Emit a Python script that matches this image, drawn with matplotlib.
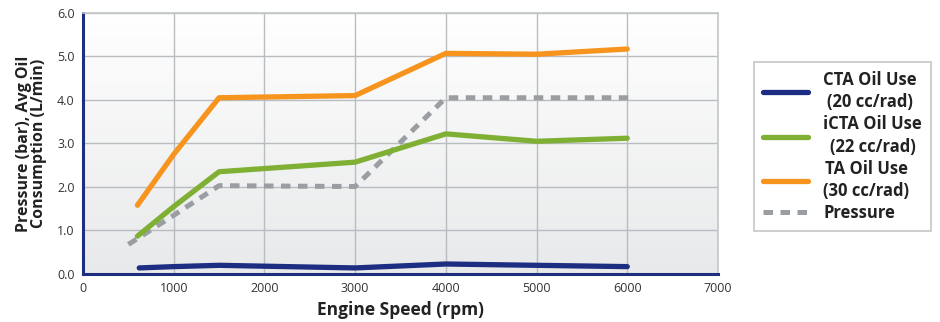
import numpy as np
import matplotlib.pyplot as plt

plt.rcParams['font.family'] = ['Open Sans', 'DejaVu Sans']

# data
rpm_cta = [620, 1000, 1500, 3000, 4000, 5000, 6000]
cta = [0.14, 0.17, 0.20, 0.14, 0.23, 0.20, 0.17]

rpm_icta = [600, 1000, 1500, 3000, 4000, 5000, 6000]
icta = [0.87, 1.55, 2.35, 2.57, 3.22, 3.05, 3.12]

rpm_ta = [600, 1000, 1500, 3000, 4000, 5000, 6000]
ta = [1.58, 2.75, 4.05, 4.10, 5.07, 5.05, 5.17]

rpm_p = [500, 1000, 1500, 3000, 4000, 5000, 6050]
pressure = [0.68, 1.35, 2.03, 2.01, 4.05, 4.05, 4.05]

labels = ['CTA Oil Use\n(20 cc/rad)', 'iCTA Oil Use\n(22 cc/rad)',
          'TA Oil Use\n(30 cc/rad)', 'Pressure']
colors = ['#1c2d82', '#7fb034', '#f7941d', '#9a9ea3']

fig = plt.figure(figsize=(9.4, 3.22), dpi=100)
ax = fig.add_axes([0.0883, 0.149, 0.6755, 0.811])

# soft vertical gradient background
grad = np.linspace(1, 0, 256).reshape(-1, 1)
ax.imshow(grad, extent=[0, 1, 0, 1], transform=ax.transAxes, aspect='auto',
          cmap=plt.matplotlib.colors.LinearSegmentedColormap.from_list('bg', ['#e8e9ea', '#ffffff']),
          zorder=0)

ax.plot(rpm_cta, cta, color=colors[0], lw=3.8, solid_capstyle='round', label=labels[0], zorder=3)
ax.plot(rpm_icta, icta, color=colors[1], lw=3.8, solid_capstyle='round', label=labels[1], zorder=3)
ax.plot(rpm_ta, ta, color=colors[2], lw=3.8, solid_capstyle='round', label=labels[2], zorder=3)
ax.plot(rpm_p, pressure, color=colors[3], lw=3.6, dashes=(1.9, 1.5), label=labels[3], zorder=2)

ax.set_xlim(0, 7000)
ax.set_ylim(0, 6)
ax.set_xticks(range(0, 7001, 1000))
ax.set_yticks(np.arange(0, 6.01, 1.0))
ax.set_yticklabels(['%.1f' % v for v in np.arange(0, 6.01, 1.0)])
ax.grid(True, color='#b9bcc0', lw=1.0, zorder=1)
ax.set_axisbelow(True)
ax.tick_params(length=0, labelsize=9, colors='#333333', pad=6)

for s in ['top', 'right']:
    ax.spines[s].set_color('#c4c7ca')
    ax.spines[s].set_linewidth(1.2)
for s in ['left', 'bottom']:
    ax.spines[s].set_color('#1f2f80')
    ax.spines[s].set_linewidth(2.2)

ax.set_xlabel('Engine Speed (rpm)', fontsize=12.5, fontweight='bold', color='#222222', labelpad=4)
ax.set_ylabel('Pressure (bar), Avg Oil\nConsumption (L/min)', fontsize=11.5, fontweight='bold',
              color='#222222', labelpad=7, linespacing=0.95)

leg = fig.legend(loc='upper left', bbox_to_anchor=(0.802, 0.808), fontsize=12,
                 handlelength=2.7, handletextpad=0.9, labelspacing=0.25,
                 frameon=True, fancybox=False, edgecolor='#b5b8bb', borderpad=0.55,
                 borderaxespad=0)
leg.get_frame().set_linewidth(1.2)
for t in leg.get_texts():
    t.set_fontweight('bold')
    t.set_color('#222222')
    t.set_multialignment('center')
    t.set_linespacing(1.3)

fig.savefig('out.png', dpi=100)
